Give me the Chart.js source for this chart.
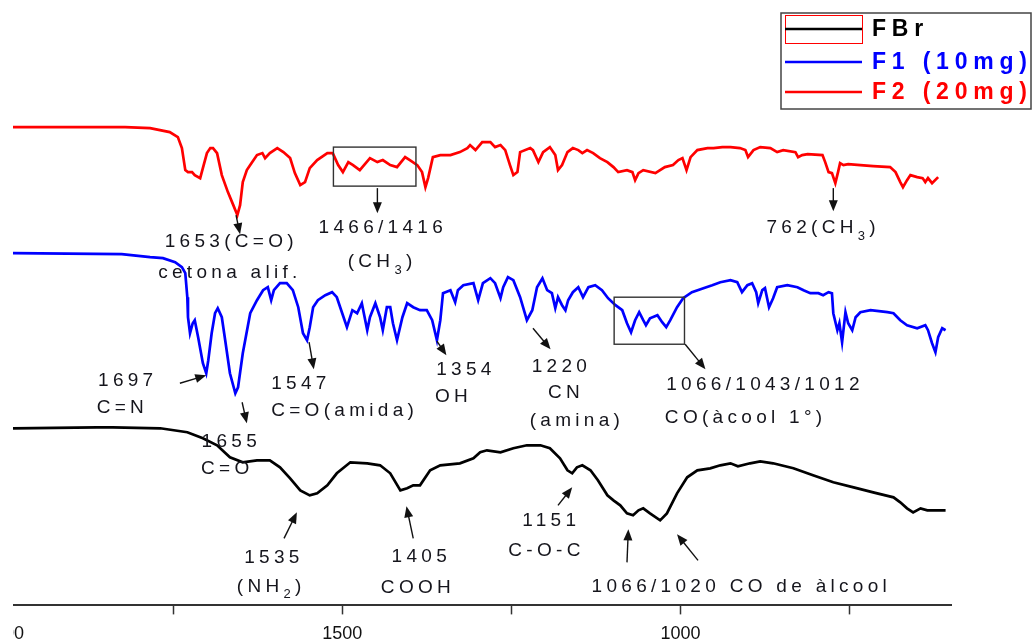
<!DOCTYPE html>
<html><head><meta charset="utf-8">
<script src="https://cdn.jsdelivr.net/npm/chart.js@4.4.1/dist/chart.umd.min.js"></script>
<style>
html,body{margin:0;padding:0;background:#fff;overflow:hidden;width:1032px;height:642px;}
#clip{position:absolute;left:13px;top:0;width:1019px;height:642px;overflow:hidden;}
#wrap{position:absolute;left:-49px;top:0;width:1100px;height:654px;}
</style></head>
<body><div id="clip"><div id="wrap"><canvas id="c" width="1100" height="654"></canvas></div></div>
<script>
// ---- Data (wavenumber in cm-1, transmittance in arbitrary offset units) ----
const seriesLabels = ['FBr', 'F1 (10mg)', 'F2 (20mg)'];
const seriesColors = ['#000000', '#0000ff', '#ff0000'];

const fbrWavenumbers = [1987,1863,1839,1769,1729,1706,1685,1666,1647,1626,
1607,1592,1577,1562,1548,1537,1522,1508,1488,1463,
1444,1429,1414,1404,1395,1385,1370,1355,1326,1306,
1296,1286,1266,1247,1227,1207,1193,1178,1167,1160,
1153,1145,1133,1122,1108,1099,1089,1079,1070,1062,
1055,1045,1030,1020,1005,990,975,956,941,926,
915,897,882,863,833,804,774,744,715,685,
675,665,656,645,635,626,608];
const fbrValues = [17.7,17.8,17.8,17.7,17.3,16.7,16.0,14.8,14.3,14.5,
14.5,13.8,12.7,11.5,11.0,11.2,12.0,13.2,14.3,14.2,
14.0,13.2,11.5,11.7,12.0,12.0,13.5,14.0,14.2,14.7,
15.3,15.5,15.3,15.7,16.0,16.0,15.7,14.7,13.5,13.2,
13.8,14.0,13.5,12.5,11.0,10.5,10.0,9.2,9.0,9.5,
9.7,9.2,8.5,9.2,11.2,12.8,13.5,13.7,14.0,14.2,
13.9,14.2,14.4,14.2,13.7,13.0,12.3,11.8,11.3,10.8,
10.3,9.7,9.3,9.7,9.5,9.5,9.5];

const f1Wavenumbers = [1987,1826,1784,1765,1747,1737,1732,1729,1728,1725,
1721,1718,1713,1706,1701,1698,1693,1688,1684,1678,
1673,1666,1658,1654,1647,1636,1626,1617,1610,1605,
1601,1592,1582,1573,1565,1558,1552,1548,1543,1536,
1525,1515,1508,1500,1493,1485,1478,1471,1463,1459,
1451,1444,1440,1434,1429,1425,1419,1411,1404,1395,
1385,1375,1367,1360,1355,1351,1340,1333,1329,1321,
1306,1299,1292,1281,1274,1266,1262,1255,1247,1237,
1227,1219,1212,1204,1197,1190,1185,1181,1175,1170,
1166,1159,1151,1144,1136,1126,1116,1107,1096,1086,
1079,1073,1067,1061,1055,1051,1045,1034,1027,1021,
1015,1005,996,983,966,953,941,926,916,909,
901,894,888,885,879,875,869,863,857,842,
827,818,808,796,789,781,776,774,768,765,
761,756,752,746,741,734,719,694,685,675,
665,650,638,634,628,623,619,613,608];
const f1Values = [35.2,35.1,34.8,34.7,34.3,33.8,33.2,30.8,28.8,27.2,
28.2,28.5,26.8,24.2,23.2,24.5,27.2,29.2,29.7,28.8,
26.5,23.2,21.2,21.8,25.2,29.2,30.5,31.5,31.8,30.5,
31.5,32.2,32.2,31.5,29.8,27.2,26.5,27.8,29.8,30.5,
31.0,31.3,30.8,29.2,27.8,29.5,29.2,30.2,27.5,28.8,
30.2,28.8,27.5,29.8,29.8,28.2,26.5,28.8,30.2,29.8,
29.5,29.5,28.5,26.5,28.5,31.2,31.5,30.3,31.5,32.0,
32.2,30.5,32.2,32.7,32.2,30.7,31.8,32.8,32.5,30.8,
28.5,29.5,31.8,32.7,31.5,31.2,29.7,30.8,30.0,29.5,
30.5,31.3,31.8,30.8,31.8,32.0,31.5,30.7,30.0,29.5,
28.2,27.3,28.5,29.3,28.5,28.0,28.7,29.0,28.3,27.8,
28.5,29.8,30.7,31.3,31.7,32.0,32.3,32.5,32.3,31.3,
32.0,32.2,31.3,30.2,31.5,31.7,29.8,30.7,31.8,32.0,
31.8,31.5,31.2,31.2,31.0,31.3,31.2,29.2,27.5,28.2,
26.3,29.3,28.2,27.5,28.8,29.3,29.5,29.3,29.2,28.5,
28.0,27.7,28.0,27.5,26.2,25.3,26.8,27.7,27.5];

const f2Wavenumbers = [1987,1821,1784,1755,1743,1737,1732,1728,1722,1718,
1710,1706,1700,1695,1691,1685,1678,1669,1661,1655,
1651,1647,1641,1636,1626,1618,1614,1607,1596,1587,
1577,1570,1562,1555,1548,1537,1522,1514,1506,1499,
1491,1484,1474,1459,1448,1440,1429,1419,1407,1400,
1389,1382,1377,1373,1366,1355,1340,1326,1315,1311,
1303,1293,1281,1274,1266,1259,1252,1247,1241,1237,
1222,1218,1210,1203,1193,1185,1181,1175,1167,1159,
1151,1145,1138,1129,1119,1108,1099,1092,1079,1071,
1067,1062,1055,1037,1023,1011,1003,997,991,985,
975,960,951,938,926,912,904,900,892,882,
867,857,848,830,826,820,812,790,786,781,
776,771,767,764,759,752,734,715,690,682,
675,671,665,660,650,642,638,634,628,619];
const f2Values = [47.8,47.8,47.7,47.3,46.8,45.7,43.5,43.3,43.3,43.0,
42.7,43.7,45.2,45.7,45.7,45.2,43.0,41.3,40.0,39.0,
40.0,42.3,43.5,44.0,45.0,45.2,44.7,45.2,45.7,45.3,
44.7,43.2,42.0,42.3,43.7,44.5,45.2,45.2,44.0,43.3,
44.3,44.0,43.5,44.7,44.3,44.5,44.0,43.8,44.8,44.5,
44.0,43.3,41.8,42.7,44.8,45.0,45.0,45.3,45.7,46.0,
45.5,46.3,46.3,45.8,46.0,45.5,44.0,43.0,43.3,45.3,
45.7,45.5,44.3,45.3,45.8,45.0,43.5,44.0,45.3,45.7,
45.5,45.2,45.5,45.2,44.7,44.3,43.8,43.3,43.5,43.3,
42.5,43.2,43.5,43.2,43.8,44.0,44.5,44.7,43.5,44.8,
45.5,45.7,45.7,45.8,45.8,45.7,45.5,44.8,45.5,45.8,
45.7,45.3,45.5,45.3,44.8,45.0,45.1,45.0,44.3,43.3,
43.2,42.2,43.3,44.2,44.0,44.1,44.0,43.9,43.8,43.3,
42.3,41.8,42.5,43.0,42.8,42.7,42.3,42.7,42.2,42.8];

const xTickValues = [2000, 1750, 1500, 1250, 1000, 750];
const xTickLabels = {2000: '2000', 1500: '1500', 1000: '1000'};

// ---- Annotations (in data coordinates: wavenumber, value) ----
const annotationTexts = [
  {x:1664, y:36.3, t:'1653(C=O)', a:'center'},
  {x:1666, y:33.2, t:'cetona alif.', a:'center'},
  {x:1440, y:37.7, t:'1466/1416', a:'center'},
  {x:1441, y:34.3, t:'(CH_{3})', a:'center'},
  {x:789,  y:37.7, t:'762(CH_{3})', a:'center'},
  {x:1861, y:22.4, t:'1697', a:'left'},
  {x:1863, y:19.8, t:'C=N', a:'left'},
  {x:1664, y:16.4, t:'1655', a:'center'},
  {x:1670, y:13.7, t:'C=O', a:'center'},
  {x:1605, y:22.1, t:'1547', a:'left'},
  {x:1605, y:19.5, t:'C=O(amida)', a:'left'},
  {x:1361, y:23.5, t:'1354', a:'left'},
  {x:1363, y:20.8, t:'OH', a:'left'},
  {x:1176, y:23.8, t:'1220', a:'center'},
  {x:1169, y:21.2, t:'CN', a:'center'},
  {x:1153, y:18.5, t:'(amina)', a:'center'},
  {x:1021, y:22.0, t:'1066/1043/1012', a:'left'},
  {x:1023, y:18.8, t:'CO(àcool 1°)', a:'left'},
  {x:1601, y:4.8, t:'1535', a:'center'},
  {x:1605, y:1.9, t:'(NH_{2})', a:'center'},
  {x:1383, y:4.9, t:'1405', a:'center'},
  {x:1388, y:1.8, t:'COOH', a:'center'},
  {x:1191, y:8.5, t:'1151', a:'center'},
  {x:1198, y:5.5, t:'C-O-C', a:'center'},
  {x:910,  y:1.9, t:'1066/1020 CO de àlcool', a:'center'}
];
const annotationArrows = [
  [1657, 39.0, 1651, 37.1],
  [1448, 41.7, 1448, 39.2],
  [774, 41.7, 774, 39.4],
  [1740, 22.2, 1701, 23.0],
  [1648, 20.3, 1641, 18.2],
  [1549, 26.3, 1542, 23.6],
  [1360, 26.4, 1346, 25.0],
  [1218, 27.7, 1192, 25.6],
  [993, 26.1, 963, 23.6],
  [1586, 6.7, 1567, 9.3],
  [1395, 6.7, 1405, 9.9],
  [1181, 10.0, 1160, 11.8],
  [1079, 4.3, 1077, 7.6],
  [974, 4.5, 1005, 7.1]
];
const annotationBoxes = [
  [1513, 45.8, 1391, 41.9],
  [1098, 30.8, 994, 26.1]
];

const FONT = '"Liberation Sans", Arial, Helvetica, sans-serif';
const PAGE_OFFSET = 36; // canvas x = page x + this

function drawRich(ctx, str, x, y, align, size, spacing, color, bold) {
  const parts = [];
  const re = /_\{(.*?)\}/g;
  let last = 0, m;
  while ((m = re.exec(str)) !== null) {
    if (m.index > last) parts.push({t: str.slice(last, m.index), sub: false});
    parts.push({t: m[1], sub: true});
    last = re.lastIndex;
  }
  if (last < str.length) parts.push({t: str.slice(last), sub: false});
  const w = bold ? 'bold ' : '';
  let total = 0;
  parts.forEach(p => {
    ctx.font = w + (p.sub ? Math.round(size * 0.68) : size) + 'px ' + FONT;
    ctx.letterSpacing = spacing + 'px';
    p.w = ctx.measureText(p.t).width;
    total += p.w;
  });
  let cx = align === 'center' ? x - total / 2 : x;
  ctx.fillStyle = color;
  ctx.textAlign = 'left';
  ctx.textBaseline = 'middle';
  parts.forEach(p => {
    ctx.font = w + (p.sub ? Math.round(size * 0.68) : size) + 'px ' + FONT;
    ctx.letterSpacing = spacing + 'px';
    ctx.fillText(p.t, cx, p.sub ? y + size * 0.42 : y);
    cx += p.w;
  });
  ctx.letterSpacing = '0px';
}

const annotationPlugin = {
  id: 'annot',
  afterDatasetsDraw(chart) {
    const ctx = chart.ctx, xs = chart.scales.x, ys = chart.scales.y;
    ctx.save();
    ctx.strokeStyle = '#333'; ctx.lineWidth = 1.4;
    annotationBoxes.forEach(b => {
      const x1 = xs.getPixelForValue(b[0]), y1 = ys.getPixelForValue(b[1]);
      const x2 = xs.getPixelForValue(b[2]), y2 = ys.getPixelForValue(b[3]);
      ctx.strokeRect(Math.min(x1, x2), Math.min(y1, y2), Math.abs(x2 - x1), Math.abs(y2 - y1));
    });
    annotationArrows.forEach(a => {
      const x1 = xs.getPixelForValue(a[0]), y1 = ys.getPixelForValue(a[1]);
      const x2 = xs.getPixelForValue(a[2]), y2 = ys.getPixelForValue(a[3]);
      const ang = Math.atan2(y2 - y1, x2 - x1);
      const hl = 11, hw = 4.5;
      ctx.strokeStyle = '#111'; ctx.fillStyle = '#111'; ctx.lineWidth = 1.4;
      ctx.beginPath(); ctx.moveTo(x1, y1);
      ctx.lineTo(x2 - Math.cos(ang) * hl * 0.8, y2 - Math.sin(ang) * hl * 0.8); ctx.stroke();
      ctx.beginPath();
      ctx.moveTo(x2, y2);
      ctx.lineTo(x2 - Math.cos(ang) * hl + Math.sin(ang) * hw, y2 - Math.sin(ang) * hl - Math.cos(ang) * hw);
      ctx.lineTo(x2 - Math.cos(ang) * hl - Math.sin(ang) * hw, y2 - Math.sin(ang) * hl + Math.cos(ang) * hw);
      ctx.closePath(); ctx.fill();
    });
    annotationTexts.forEach(a => {
      drawRich(ctx, a.t, xs.getPixelForValue(a.x), ys.getPixelForValue(a.y), a.a, 19, 4.3, '#15151c', false);
    });
    ctx.restore();
  }
};

const legendPlugin = {
  id: 'boxLegend',
  afterDraw(chart) {
    const ctx = chart.ctx;
    const o = PAGE_OFFSET;
    ctx.save();
    ctx.strokeStyle = '#444'; ctx.lineWidth = 1.5;
    ctx.strokeRect(781 + o, 13, 250, 96);
    const rows = [29, 62, 92];
    chart.data.datasets.forEach((ds, i) => {
      const y = rows[i];
      if (i === 0) {
        ctx.strokeStyle = '#ff0000'; ctx.lineWidth = 1;
        ctx.strokeRect(785.5 + o, 15.5, 77, 28);
      }
      ctx.strokeStyle = ds.borderColor; ctx.lineWidth = 2.5;
      ctx.beginPath(); ctx.moveTo(785 + o, y); ctx.lineTo(862 + o, y); ctx.stroke();
      drawRich(ctx, ds.label, 872 + o, y + 1, 'left', 23, 5.8, ds.borderColor, true);
    });
    ctx.restore();
  }
};

function makeSeries(xs, ys) { return xs.map((x, i) => ({x: x, y: ys[i]})); }

new Chart(document.getElementById('c'), {
  type: 'line',
  data: {
    datasets: [
      {label: seriesLabels[0], data: makeSeries(fbrWavenumbers, fbrValues), borderColor: seriesColors[0]},
      {label: seriesLabels[1], data: makeSeries(f1Wavenumbers, f1Values), borderColor: seriesColors[1]},
      {label: seriesLabels[2], data: makeSeries(f2Wavenumbers, f2Values), borderColor: seriesColors[2]}
    ]
  },
  options: {
    responsive: false,
    animation: false,
    devicePixelRatio: 1,
    layout: {padding: {left: 40, right: 113, top: 0, bottom: 0}},
    elements: {point: {radius: 0}, line: {borderWidth: 2.7, tension: 0, fill: false}},
    plugins: {legend: {display: false}, tooltip: {enabled: false}},
    scales: {
      x: {
        type: 'linear', reverse: true, min: 600, max: 2000,
        afterBuildTicks: s => { s.ticks = xTickValues.map(v => ({value: v})); },
        ticks: {
          autoSkip: false, maxRotation: 0, padding: 9, color: '#111',
          font: {family: FONT, size: 18},
          callback: v => xTickLabels[v] || ''
        },
        grid: {
          drawOnChartArea: false, drawTicks: true, tickLength: 9,
          tickColor: c => (c.tick && c.tick.value === 2000) ? 'rgba(0,0,0,0)' : '#333',
          tickWidth: 1.5
        },
        border: {display: true, color: '#333', width: 2}
      },
      y: {display: false, min: 0, max: 60.5}
    }
  },
  plugins: [annotationPlugin, legendPlugin]
});
</script>
</body></html>
